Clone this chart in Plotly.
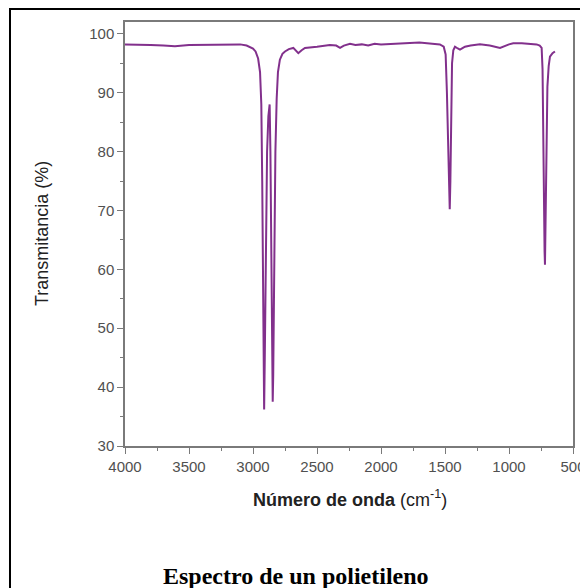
import plotly.graph_objects as go

# Wavenumber (cm-1) and transmittance (%)
wavenumber = [4000, 3900, 3800, 3700, 3610, 3500, 3300, 3150, 3100, 3050, 3000, 2980,
              2960, 2945, 2935, 2928, 2922, 2916, 2913, 2908, 2900, 2890, 2880, 2870,
              2864, 2858, 2850, 2846, 2842, 2835, 2825, 2815, 2805, 2790, 2770, 2750,
              2720, 2685, 2660, 2646, 2620, 2594, 2500, 2400, 2350, 2320, 2290, 2242,
              2200, 2150, 2100, 2050, 2000, 1900, 1800, 1700, 1600, 1540, 1510, 1495,
              1485, 1475, 1468, 1463, 1458, 1452, 1445, 1435, 1422, 1400, 1383, 1360,
              1344, 1300, 1227, 1150, 1070, 1000, 967, 900, 850, 784, 760, 745, 738,
              733, 730, 727, 722, 719, 714, 708, 700, 690, 680, 660, 641]
transmittance = [98.2, 98.2, 98.1, 98.0, 97.9, 98.1, 98.2, 98.3, 98.2, 98.0, 97.5, 97.0,
                 95.8, 93.5, 88.0, 75.0, 55.0, 38.0, 36.2, 45.0, 65.0, 80.0, 86.0, 88.0,
                 80.0, 60.0, 42.0, 37.5, 42.0, 60.0, 80.0, 89.0, 93.5, 95.6, 96.6, 97.0,
                 97.4, 97.6, 97.0, 96.7, 97.2, 97.6, 97.8, 98.1, 98.0, 97.6, 98.0, 98.3,
                 98.1, 98.2, 98.0, 98.3, 98.2, 98.3, 98.4, 98.5, 98.3, 98.2, 97.8, 96.5,
                 90.0, 78.0, 72.0, 70.2, 75.0, 88.0, 95.0, 97.2, 97.8, 97.5, 97.3, 97.6,
                 97.8, 98.0, 98.2, 98.0, 97.6, 98.2, 98.4, 98.4, 98.3, 98.2, 98.0, 97.6, 94.0,
                 82.0, 70.5, 69.6, 63.0, 60.8, 68.0, 85.0, 91.0, 94.5, 96.1, 96.7, 97.0]

x_ticks = [4000, 3500, 3000, 2500, 2000, 1500, 1000, 500]
y_ticks = [30, 40, 50, 60, 70, 80, 90, 100]

fig = go.Figure()
fig.add_trace(go.Scatter(x=wavenumber, y=transmittance, mode="lines",
                         line=dict(color="#82308C", width=2), hoverinfo="skip"))

axis_common = dict(showgrid=False, zeroline=False, showline=True, linecolor="#7a7a7a",
                   linewidth=1.5, mirror=True, ticks="outside", ticklen=6, tickwidth=1.2,
                   tickcolor="#7a7a7a", automargin=False,
                   tickfont=dict(family="Liberation Sans, Arial", size=15, color="#505050"))

fig.update_xaxes(range=[4000, 500], tickvals=x_ticks, ticktext=[str(v) for v in x_ticks],
                 minor=dict(ticks="outside", dtick=250, ticklen=3, tickcolor="#7a7a7a"),
                 **axis_common)
fig.update_yaxes(range=[30, 102], tickvals=y_ticks, ticktext=[str(v) for v in y_ticks],
                 minor=dict(ticks="outside", dtick=5, ticklen=3, tickcolor="#7a7a7a"),
                 **axis_common)

fig.update_layout(
    width=580, height=580,
    margin=dict(l=117, r=15, t=14, b=142),
    plot_bgcolor="white", paper_bgcolor="white",
    showlegend=False,
    annotations=[
        dict(text="<b>Número de onda</b> (cm<sup>-1</sup>)", xref="paper", yref="paper",
             x=0.502, y=-0.123, showarrow=False, xanchor="center", yanchor="middle",
             font=dict(family="Liberation Sans, Arial", size=18, color="#222222")),
        dict(text="Transmitancia (%)", xref="paper", yref="paper", textangle=-90,
             x=-0.185, y=0.5, showarrow=False, xanchor="center", yanchor="middle",
             font=dict(family="Liberation Sans, Arial", size=18, color="#222222")),
        dict(text="<b>Espectro de un polietileno</b>", xref="paper", yref="paper",
             x=0.382, y=-0.307, showarrow=False, xanchor="center", yanchor="middle",
             font=dict(family="Liberation Serif, Times New Roman", size=24, color="black")),
    ],
    shapes=[
        dict(type="rect", xref="paper", yref="paper", x0=-0.2567, y0=-0.6, x1=1.2, y1=1.0307,
             line=dict(color="black", width=2), layer="below"),
    ],
)

fig.write_html("out.html")
